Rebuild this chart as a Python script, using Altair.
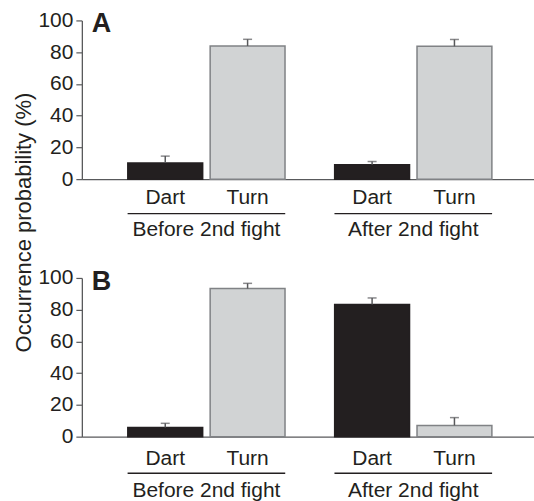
import altair as alt
import pandas as pd

# ---- data ----
panels = ["A", "A", "A", "A", "B", "B", "B", "B"]
groups = ["Before 2nd fight", "Before 2nd fight", "After 2nd fight", "After 2nd fight"] * 2
behaviors = ["Dart", "Turn", "Dart", "Turn"] * 2
means = [10.1, 83.9, 9.0, 83.7, 5.8, 93.3, 83.2, 7.1]
errors = [4.4, 4.2, 2.1, 4.3, 2.6, 3.3, 4.2, 4.9]

group_order = ["Before 2nd fight", "After 2nd fight"]
behavior_order = ["Dart", "Turn"]
y_ticks = [0, 20, 40, 60, 80, 100]
y_title = "Occurrence probability (%)"

df = pd.DataFrame({
    "panel": panels, "group": groups, "behavior": behaviors,
    "mean": means, "err": errors,
})
df["upper"] = df["mean"] + df["err"]

FONT = "Liberation Sans"
TXT = "#231f20"
AXC = "#58595b"
W, H = 453, 159


def panel(letter, show_title, lab_dy, line_dy, grp_dy):
    d = df[df["panel"] == letter]
    gd = pd.DataFrame({"group": group_order})
    base = alt.Chart(d)
    x = alt.X("group:N", sort=group_order,
              scale=alt.Scale(paddingInner=0, paddingOuter=0.0929, align=0.55),
              axis=alt.Axis(labels=False, ticks=False, title=None,
                            domainColor=AXC, domainWidth=1.3))
    xo = alt.XOffset("behavior:N", sort=behavior_order,
                     scale=alt.Scale(paddingInner=0.0909, paddingOuter=0.3015))
    yaxis = alt.Axis(values=y_ticks, tickCount=6, grid=False, tickSize=6, tickColor=AXC,
                     tickWidth=1.2, domainColor=AXC, domainWidth=1.3,
                     labelFont=FONT, labelFontSize=21, labelColor=TXT,
                     labelPadding=3, labelOverlap=False, labelFlush=False,
                     labelBaseline="middle",
                     title=y_title if show_title else None,
                     titleFont=FONT, titleFontSize=22, titleFontWeight="normal",
                     titleColor=TXT, titleX=-58, titleY=202,
                     titleBaseline="middle", titleAlign="center", titleAngle=-90)
    yscale = alt.Scale(domain=[0, 100], nice=False)
    y = alt.Y("mean:Q", scale=yscale, axis=yaxis)
    yu = alt.Y("upper:Q", scale=yscale, axis=yaxis)

    bars = base.mark_bar(strokeWidth=1.5).encode(
        x=x, xOffset=xo, y=y,
        color=alt.Color("behavior:N", sort=behavior_order,
                        scale=alt.Scale(domain=behavior_order, range=["#231f20", "#d1d3d4"]),
                        legend=None),
        stroke=alt.Stroke("behavior:N", sort=behavior_order,
                          scale=alt.Scale(domain=behavior_order, range=["#231f20", "#808285"]),
                          legend=None),
    )
    stems = base.mark_rule(color="#58595b", strokeWidth=1.5).encode(
        x=x, xOffset=xo, y=y, y2="upper:Q")
    caps = base.mark_tick(orient="horizontal", size=9, thickness=1.5, color="#58595b").encode(
        x=x, xOffset=xo, y=yu)
    cat_labels = base.mark_text(font=FONT, fontSize=21, color=TXT, baseline="alphabetic").encode(
        x=x, xOffset=xo, y=alt.value(H + lab_dy), text="behavior:N")
    underline = alt.Chart(gd).mark_bar(width=alt.RelativeBandSize(0.762), color=TXT).encode(
        x=x, y=alt.value(H + line_dy), y2=alt.value(H + line_dy + 1.3))
    grp_labels = alt.Chart(gd).mark_text(font=FONT, fontSize=21, color=TXT,
                                         baseline="alphabetic").encode(
        x=x, y=alt.value(H + grp_dy), text="group:N")
    letter_txt = alt.Chart(pd.DataFrame({"t": [letter]})).mark_text(
        font=FONT, fontSize=27, fontWeight="bold", color=TXT, align="left",
        baseline="alphabetic").encode(x=alt.value(10), y=alt.value(12), text="t:N")
    return alt.layer(bars, stems, caps, cat_labels, underline, grp_labels,
                     letter_txt).properties(width=W, height=H)


top = panel("A", True, 25, 34, 57)
bottom = panel("B", False, 28, 36, 60)

chart = alt.vconcat(top, bottom, spacing=99, bounds="flush").properties(
    padding={"left": 13, "top": 9, "right": 0, "bottom": 0},
    background="white",
).configure_view(stroke=None)

chart.save("out.html", embed_options={"renderer": "svg", "actions": False})
